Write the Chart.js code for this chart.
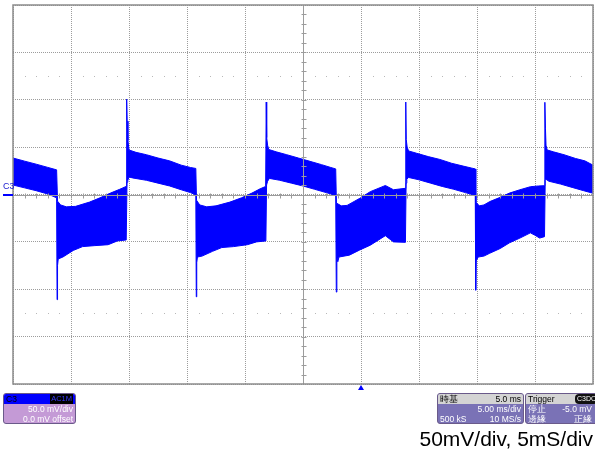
<!DOCTYPE html>
<html>
<head>
<meta charset="utf-8">
<script src="https://cdn.jsdelivr.net/npm/chart.js@4/dist/chart.umd.min.js"></script>
<style>
  html, body { margin: 0; padding: 0; background: #fff; overflow: hidden; }
  #wrap { position: relative; width: 595px; height: 452px; overflow: hidden;
          font-family: "Liberation Sans", Arial, sans-serif; }
  #scope { position: absolute; left: 0; top: 0; }
  .chanTag { position: absolute; left: 3px; top: 181px; font-size: 9px; color: #2020d0; }
  .info { position: absolute; top: 393px; height: 31px; border: 1px solid #6a5a8a;
          border-radius: 3px; overflow: hidden; font-size: 8.5px; color: #fff; box-sizing: border-box; }
  .info .hdr { height: 10px; line-height: 10px; display: flex; justify-content: space-between;
               padding: 0 2px; color: #000; }
  .info .row { height: 10px; line-height: 10px; display: flex; justify-content: space-between; padding: 0 2px; }
  .tag { background: #000; color: #3a3aff; padding: 0 1px; font-size: 7.5px; }
  .pill { background: #111; color: #fff; border-radius: 4px; padding: 0 2px; font-size: 7px; }
  #caption { position: absolute; right: 2px; top: 428px; font-size: 21px; line-height: 21px; color: #000; }
</style>
</head>
<body>
<div id="wrap">
  <canvas id="scope" width="595" height="452"></canvas>
  <div class="chanTag">C3</div>

  <div class="info" style="left:3px; width:73px; background:#c49ad6;">
    <div class="hdr" style="background:#0000ff;"><span>C3</span><span class="tag">AC1M</span></div>
    <div class="row"><span></span><span>50.0 mV/div</span></div>
    <div class="row"><span></span><span>0.0 mV offset</span></div>
  </div>

  <div class="info" style="left:437px; width:87px; background:#7a72b6;">
    <div class="hdr" style="background:#d4d4d4;"><span>時基</span><span>5.0 ms</span></div>
    <div class="row"><span></span><span>5.00 ms/div</span></div>
    <div class="row"><span>500 kS</span><span>10 MS/s</span></div>
  </div>

  <div class="info" style="left:525px; width:76px; background:#7a72b6;">
    <div class="hdr" style="background:#d4d4d4;"><span>Trigger</span><span class="pill">C3DC</span></div>
    <div class="row" style="padding-right:8px;"><span>停止</span><span>-5.0 mV</span></div>
    <div class="row" style="padding-right:8px;"><span>邊緣</span><span>正緣</span></div>
  </div>

  <div id="caption">50mV/div, 5mS/div</div>
</div>

<script>
// C3 trace, 5 ms/div x 10, 50 mV/div x 8
const timeRange = [0, 50];     // ms
const voltRange = [-200, 200]; // mV
const timeStep = 5;
const voltStep = 50;
const triggerTime = 30;

// upper edge of the noisy band
const upperTime = [0, 1.0, 2.0, 3.0, 3.76,
  3.84, 4.1, 4.6, 5.4, 6.6, 7.5, 8.4, 9.2, 9.75,
  9.80, 9.84, 9.91, 10.0, 10.6, 11.5, 12.5, 13.5, 14.5, 15.3, 15.76,
  15.82, 16.1, 16.7, 17.5, 18.7, 19.7, 20.6, 21.3, 21.78,
  21.83, 21.87, 21.95, 22.05, 22.7, 23.6, 24.6, 25.6, 26.6, 27.4, 27.82,
  27.88, 28.3, 28.8, 29.9, 30.8, 31.9, 32.1, 32.8, 33.81,
  33.86, 33.9, 33.98, 34.1, 34.8, 35.8, 36.8, 37.8, 38.8, 39.5, 39.85,
  39.9, 40.2, 40.6, 41.1, 42.0, 42.8, 43.7, 44.6, 45.3, 45.8,
  45.85, 45.9, 45.95, 46.05, 46.6, 47.5, 48.5, 49.3, 50];
const upperMv = [38.5, 35.2, 32, 28.6, 26,
  -7, -11, -13, -12.5, -8, -3.5, 1.5, 5.5, 8.5,
  100.7, 77.5, 57, 47, 44.5, 42, 38.5, 35.5, 31, 28.5, 27.5,
  -6, -11, -13, -12, -8, -3.5, 1.5, 6, 8.5,
  97.6, 60, 52, 47.5, 45, 42, 38.5, 35, 31.5, 28.5, 27,
  -9, -12, -11.5, -4, 3, 8.5, 9.5, 5, 6.5,
  97.6, 58, 50, 46, 43.5, 40, 37, 33, 30, 28, 27,
  -8, -12, -11, -7.5, -3, 1.5, 5, 8.2, 9, 9.3,
  97.3, 70, 52, 47, 45, 42, 38, 35.5, 31];

// lower edge of the noisy band
const lowerTime = [0, 1.0, 2.0, 3.0, 3.76,
  3.80, 3.84, 3.9, 4.3, 5.2, 6.0, 7.0, 8.2, 9.0, 9.76,
  9.83, 9.9, 10.0, 10.3, 11.5, 12.5, 13.5, 14.5, 15.3, 15.76,
  15.80, 15.84, 15.9, 16.3, 17.2, 18.0, 19.0, 20.2, 21.0, 21.80,
  21.86, 21.95, 22.1, 23.0, 24.0, 25.0, 26.0, 27.0, 27.82,
  27.87, 27.92, 28.0, 28.1, 29.0, 29.9, 30.8, 31.9, 32.1, 32.8, 33.83,
  33.89, 33.95, 34.1, 35.0, 36.0, 37.0, 38.0, 39.0, 39.85,
  39.89, 39.93, 40.1, 40.6, 41.1, 42.0, 42.8, 43.7, 44.6, 45.0, 45.4, 45.82,
  45.88, 45.95, 46.2, 47.2, 48.2, 49.2, 50];
const lowerMv = [10, 7, 4, 0.5, -3.5,
  -111, -75, -68, -66, -59, -55, -54, -53, -49, -48,
  13, 15, 18.5, 17.5, 15, 12, 9, 5, 2, -0.5,
  -108, -72, -66, -65, -60, -56, -55, -53, -50, -49,
  10, 14, 17, 15, 12, 9, 5.5, 2, -1,
  -103, -66, -71, -66, -64, -58.5, -53.5, -45, -43.5, -50, -50.5,
  12, 16, 18, 15.5, 12, 8.5, 5.5, 2, -1,
  -101, -70, -66, -65, -62, -57, -51, -46, -40.5, -43, -46, -44.5,
  15, 16, 14, 11, 7.5, 4, 1.3];

const upperPts = upperTime.map((t, i) => ({ x: t, y: upperMv[i] }));
const lowerPts = lowerTime.map((t, i) => ({ x: t, y: lowerMv[i] }));

const traceBlue = '#0000ff';
const gridGray = '#9c9c9c';

// frame, centre cross with minor ticks, ground marker, trigger marker
const scopeOverlay = {
  id: 'scopeOverlay',
  afterDatasetsDraw(chart) {
    const { ctx, chartArea: a, scales: { x, y } } = chart;
    const cx = Math.round(x.getPixelForValue(25)) + 0.5;
    const cy = Math.round(y.getPixelForValue(0)) + 0.5;
    ctx.save();

    ctx.strokeStyle = gridGray;
    ctx.lineWidth = 1;
    ctx.beginPath();
    ctx.moveTo(a.left, cy); ctx.lineTo(a.right, cy);
    ctx.moveTo(cx, a.top); ctx.lineTo(cx, a.bottom);
    for (let t = timeRange[0] + 1; t < timeRange[1]; t++) {
      const px = Math.round(x.getPixelForValue(t)) + 0.5;
      ctx.moveTo(px, cy - 2); ctx.lineTo(px, cy + 3);
    }
    for (let v = voltRange[0] + 10; v < voltRange[1]; v += 10) {
      const py = Math.round(y.getPixelForValue(v)) + 0.5;
      ctx.moveTo(cx - 2, py); ctx.lineTo(cx + 3, py);
    }
    ctx.stroke();

    // dotted rows 1.5 div from top and bottom
    ctx.fillStyle = '#b8b8b8';
    [125, -125].forEach(v => {
      const py = Math.round(y.getPixelForValue(v));
      for (let t = 1; t < 50; t++) {
        if (t % 5 === 0) continue;
        ctx.fillRect(Math.round(x.getPixelForValue(t)), py, 1, 1);
      }
    });

    // outer frame
    ctx.strokeStyle = '#8c8c8c';
    ctx.lineWidth = 1.5;
    ctx.strokeRect(a.left, a.top, a.right - a.left, a.bottom - a.top);

    // channel ground marker
    ctx.fillStyle = traceBlue;
    ctx.fillRect(3, Math.round(y.getPixelForValue(0)) - 1, 10, 2);

    // trigger position marker
    const tx = x.getPixelForValue(triggerTime);
    ctx.beginPath();
    ctx.moveTo(tx, a.bottom + 1);
    ctx.lineTo(tx - 3, a.bottom + 6);
    ctx.lineTo(tx + 3, a.bottom + 6);
    ctx.closePath();
    ctx.fill();
    ctx.restore();
  }
};

const ctx = document.getElementById('scope').getContext('2d');

const scope = new Chart(ctx, {
  type: 'line',
  data: {
    datasets: [{
      label: 'C3 max',
      data: upperPts,
      borderColor: traceBlue,
      backgroundColor: traceBlue,
      borderWidth: 1,
      pointRadius: 0,
      tension: 0,
      fill: '+1'
    }, {
      label: 'C3 min',
      data: lowerPts,
      borderColor: traceBlue,
      backgroundColor: traceBlue,
      borderWidth: 1,
      pointRadius: 0,
      tension: 0,
      fill: false
    }]
  },
  options: {
    responsive: false,
    animation: false,
    layout: { padding: { left: 13, top: 5, right: 2, bottom: 68 } },
    plugins: {
      legend: { display: false },
      tooltip: { enabled: false }
    },
    scales: {
      x: {
        type: 'linear',
        min: timeRange[0],
        max: timeRange[1],
        ticks: { display: false, stepSize: timeStep },
        grid: { color: gridGray, drawTicks: false, tickLength: 0 },
        border: { display: false, dash: [1, 1] }
      },
      y: {
        min: voltRange[0],
        max: voltRange[1],
        ticks: { display: false, stepSize: voltStep },
        grid: { color: gridGray, drawTicks: false, tickLength: 0 },
        border: { display: false, dash: [1, 1] }
      }
    }
  },
  plugins: [scopeOverlay]
});
</script>
</body>
</html>
